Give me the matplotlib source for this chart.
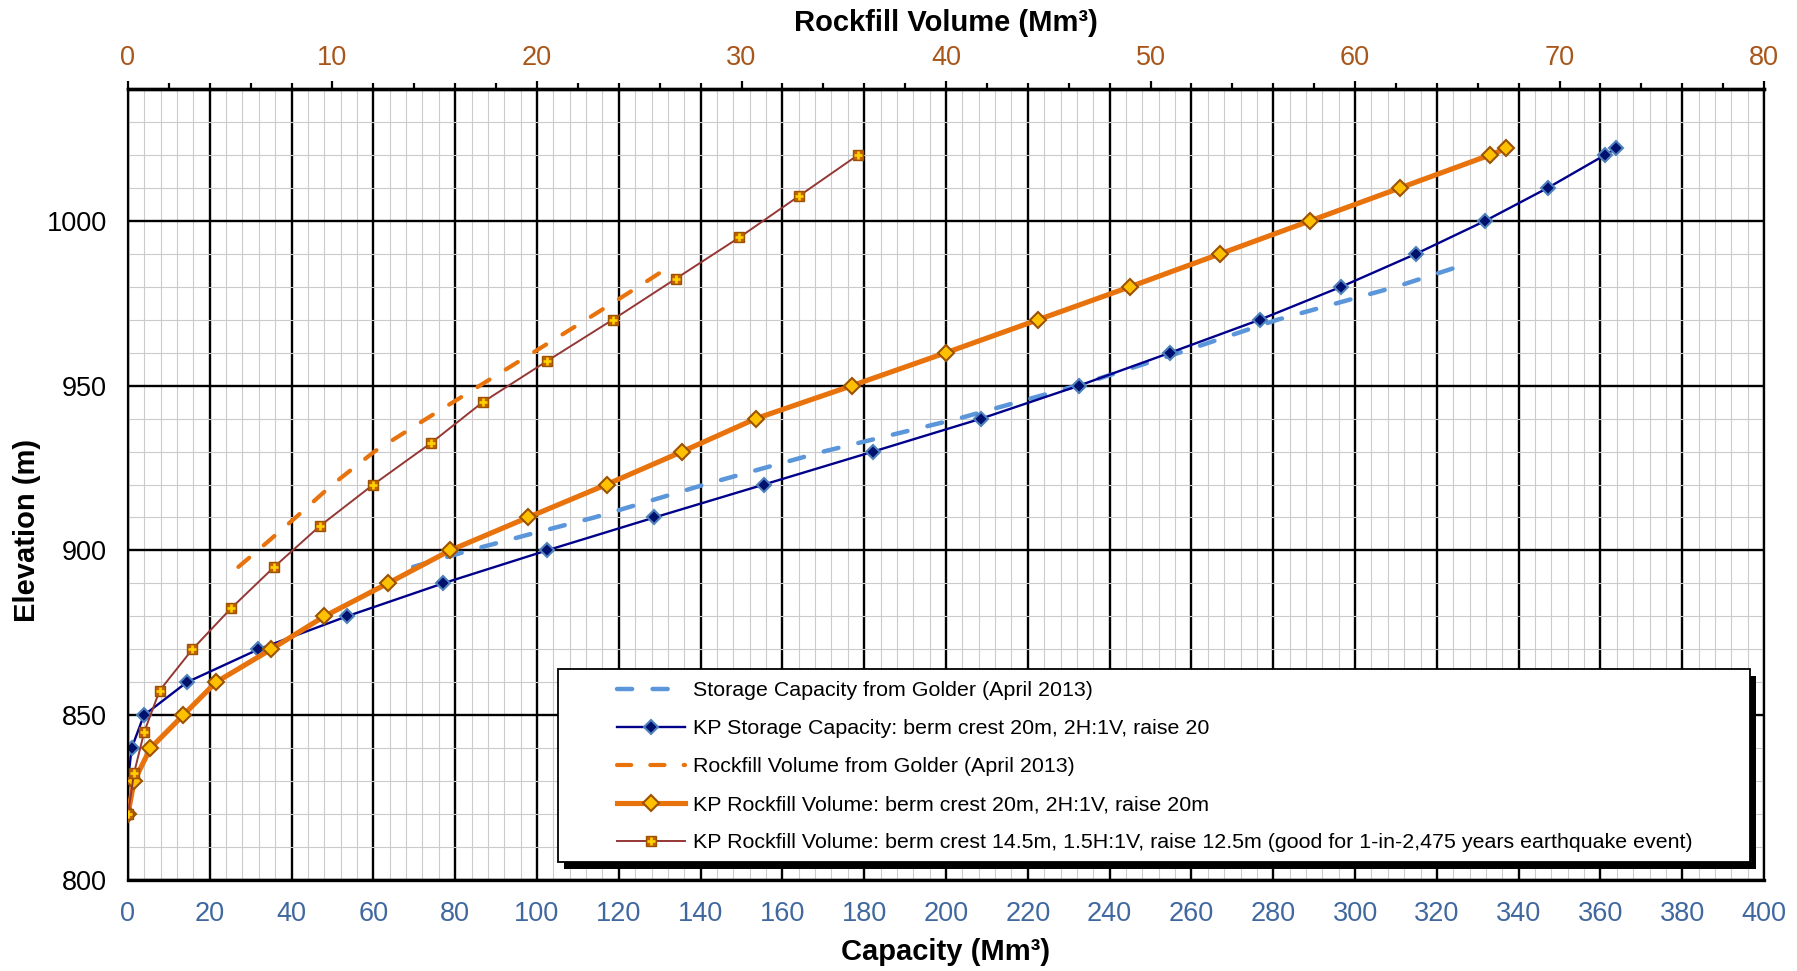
import matplotlib
matplotlib.use("Agg")
import matplotlib.pyplot as plt
from matplotlib.patches import Rectangle
from matplotlib.legend_handler import HandlerTuple
from matplotlib.ticker import MultipleLocator

plt.rcParams['font.family'] = ['Liberation Sans', 'DejaVu Sans']

# ---------------- data ----------------
# Storage capacity from Golder (April 2013)  [bottom axis, Mm3]
golder_cap_elev = [895, 900, 905, 910, 920, 930, 940, 950, 960, 970, 980, 986]
golder_cap = [69.7, 83.5, 98.5, 114, 141, 170, 203, 232, 257, 281, 310, 325]

# KP storage capacity [bottom axis, Mm3]
kp_cap_elev = [820, 830, 840, 850, 860, 870, 880, 890, 900, 910, 920, 930, 940,
               950, 960, 970, 980, 990, 1000, 1010, 1020, 1022]
kp_cap = [0, 0, 0.9, 3.9, 14.4, 31.9, 53.5, 77.0, 102.4, 128.7, 155.5, 182.2, 208.6,
          232.5, 254.8, 276.7, 296.6, 314.9, 331.8, 347.1, 361.1, 363.9]

# Rockfill volume from Golder (April 2013) [top axis, Mm3]
golder_rock_elev = [895, 900, 910, 920, 930, 940, 950, 960, 970, 980, 985]
golder_rock = [5.4, 6.35, 8.2, 10.0, 12.05, 14.6, 17.2, 19.8, 22.4, 24.95, 26.2]

# KP rockfill volume, berm crest 20m [top axis]
kp20_elev = [820, 830, 840, 850, 860, 870, 880, 890, 900, 910, 920, 930, 940,
             950, 960, 970, 980, 990, 1000, 1010, 1020, 1022]
kp20_vol = [0, 0.3, 1.1, 2.7, 4.3, 7.0, 9.6, 12.7, 15.75, 19.55, 23.4, 27.1, 30.7,
            35.4, 40.0, 44.5, 49.0, 53.4, 57.8, 62.2, 66.6, 67.4]

# KP rockfill volume, berm crest 14.5m [top axis]
kp145_elev = [820, 832.5, 845, 857.5, 870, 882.5, 895, 907.5, 920, 932.5, 945,
              957.5, 970, 982.5, 995, 1007.5, 1020]
kp145_vol = [0, 0.3, 0.8, 1.55, 3.15, 5.05, 7.15, 9.4, 12.0, 14.8, 17.35,
             20.5, 23.7, 26.8, 29.9, 32.8, 35.7]

labels = [
    "Storage Capacity from Golder (April 2013)",
    "KP Storage Capacity: berm crest 20m, 2H:1V, raise 20",
    "Rockfill Volume from Golder (April 2013)",
    "KP Rockfill Volume: berm crest 20m, 2H:1V, raise 20m",
    "KP Rockfill Volume: berm crest 14.5m, 1.5H:1V, raise 12.5m (good for 1-in-2,475 years earthquake event)",
]

# ---------------- figure ----------------
fig = plt.figure(figsize=(17.97, 9.71), dpi=100)
ax = fig.add_axes([0.0712, 0.0937, 0.9105, 0.8146])
ax.set_xlim(0, 400)
ax.set_ylim(800, 1040)

ax.xaxis.set_major_locator(MultipleLocator(20))
ax.xaxis.set_minor_locator(MultipleLocator(4))
ax.yaxis.set_major_locator(MultipleLocator(50))
ax.yaxis.set_minor_locator(MultipleLocator(10))
ax.grid(which='minor', color='#cbcbcb', lw=0.8, zorder=0)
ax.grid(which='major', color='black', lw=1.7, zorder=0.5)
ax.set_axisbelow(True)

ax.tick_params(axis='x', which='both', length=0, pad=15, labelsize=19.5, labelcolor='#40689F')
ax.tick_params(axis='y', which='both', length=0, pad=15, labelsize=19.5, labelcolor='black')

for s in ['top', 'bottom']:
    ax.spines[s].set_linewidth(2.4)
for s in ['left', 'right']:
    ax.spines[s].set_linewidth(1.6)

ax.set_xlabel('Capacity (Mm³)', fontsize=21, fontweight='bold')
ax.xaxis.set_label_coords(0.5, -0.073)
ax.set_ylabel('Elevation (m)', fontsize=21, fontweight='bold')
ax.yaxis.set_label_coords(-0.053, 0.4425)

ax2 = ax.twiny()
ax2.set_xlim(0, 80)
ax2.xaxis.set_major_locator(MultipleLocator(10))
ax2.xaxis.set_minor_locator(MultipleLocator(2))
ax2.tick_params(axis='x', which='major', direction='out', length=6, width=1.6,
                pad=7, labelsize=19.5, labelcolor='#A8561A')
ax2.tick_params(axis='x', which='minor', direction='out', length=4, width=1.6)
ax2.spines['top'].set_linewidth(2.4)
ax2.set_xlabel('Rockfill Volume (Mm³)', fontsize=21, fontweight='bold')
ax2.xaxis.set_label_coords(0.5, 1.074)

# ---------------- series ----------------
l1, = ax.plot(golder_cap, golder_cap_elev, color='#5B96DA', lw=3.2,
              dashes=(3.4, 4.6), dash_capstyle='round', zorder=3)
l2, = ax.plot(kp_cap, kp_cap_elev, color='#00008B', lw=1.7, marker='D', ms=7.3,
              mfc='#00106E', mec='#4F81BD', mew=1.5, zorder=4)
l3, = ax2.plot(golder_rock, golder_rock_elev, color='#E8720C', lw=3.0,
               dashes=(3.4, 4.6), dash_capstyle='round', zorder=3)
l4, = ax2.plot(kp20_vol, kp20_elev, color='#E8720C', lw=3.7, marker='D', ms=8.6,
               mfc='#FFC000', mec='#9C5200', mew=1.5, zorder=4)
l5, = ax2.plot(kp145_vol, kp145_elev, color='#953735', lw=1.4, marker='s', ms=7.2,
               mfc='#C4620C', mec='#9C5200', mew=1.0, zorder=5)
l5p, = ax2.plot(kp145_vol, kp145_elev, ls='none', marker='+', ms=6,
                mec='#FFD000', mew=1.9, zorder=6)

# ---------------- legend box with shadow ----------------
bx0, bx1 = 0.2628, 0.9914
by0, by1 = 0.0228, 0.2668
sdx, sdy = 0.0037, 0.0088
ax2.add_patch(Rectangle((bx0 + sdx, by0 - sdy), bx1 - bx0, by1 - by0,
                        transform=ax.transAxes, facecolor='black', edgecolor='black',
                        lw=0, zorder=7))
ax2.add_patch(Rectangle((bx0, by0), bx1 - bx0, by1 - by0,
                        transform=ax.transAxes, facecolor='white', edgecolor='black',
                        lw=1.3, zorder=8))

leg = ax2.legend([l1, l2, l3, l4, (l5, l5p)], labels,
                 handler_map={tuple: HandlerTuple(ndivide=1)},
                 loc='upper left', bbox_to_anchor=((617 - 128) / 1636, 0.2515),
                 bbox_transform=ax.transAxes, frameon=False, fontsize=15.4,
                 borderpad=0, borderaxespad=0, labelspacing=0.89,
                 handlelength=3.2, handletextpad=0.35, numpoints=1)
leg.set_zorder(9)

fig.savefig('out.png', dpi=100)
